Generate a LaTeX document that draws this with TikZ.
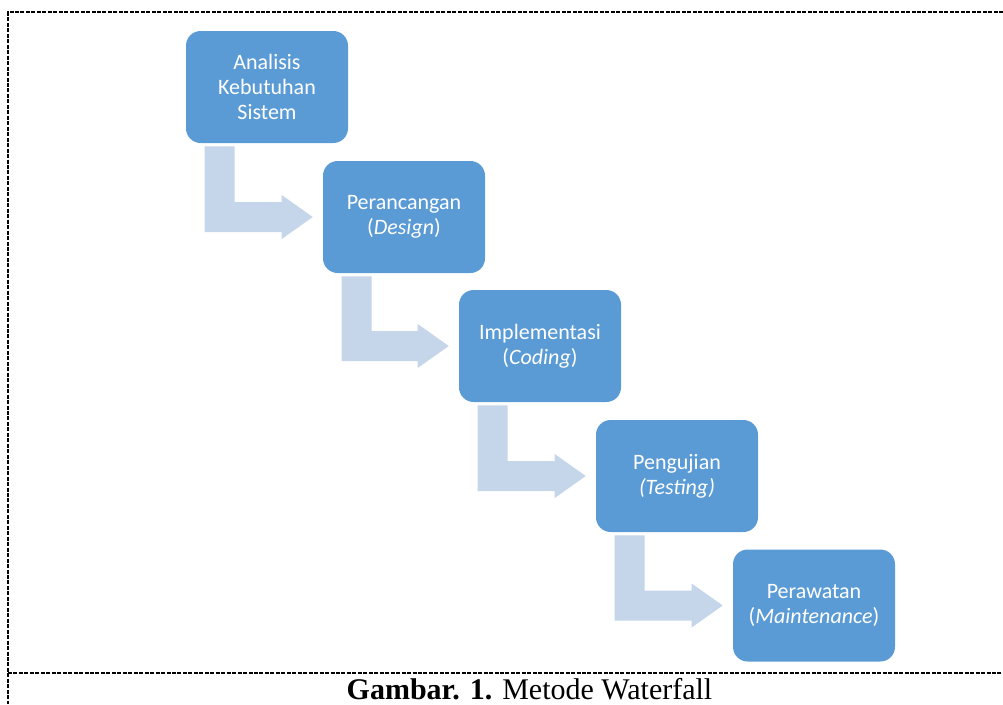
\documentclass[tikz,border=0pt]{standalone}
\usepackage{fontspec}
\setmainfont{Liberation Serif}
\newfontfamily\boxfont{Carlito}
\usetikzlibrary{calc}
\definecolor{stepblue}{HTML}{5B9BD5}
\definecolor{flowblue}{HTML}{C5D6EA}
\tikzset{
  stepbox/.style={draw=none, fill=stepblue, rounded corners=11pt,
    minimum width=121.5pt, minimum height=84pt, inner sep=0pt,
    text=white, align=center, font=\boxfont\fontsize{16.5}{18.75}\selectfont},
  flow/.style={fill=flowblue, draw=none},
  frame/.style={line width=1.1pt, dash pattern=on 3pt off 1.1pt, black}
}
\newcommand\steparrow[2]{%
  \path ($(#1.south west)+(19,3)$) coordinate (A1)
        ($(#1.south west)+(49,3)$) coordinate (A2)
        ($(#2.west)+(-41,-15)$) coordinate (A3)
        ($(#2.west)+(-41,15)$) coordinate (A4)
        ($(#2.west)+(-10,0)$) coordinate (A5);
  \fill[flow] (A1) -- (A2) -- (A2 |- A3) -- (A3) -- ++(0,-7) -- (A5)
     -- ($(A4)+(0,7)$) -- (A4) -- (A1 |- A4) -- cycle;
}
\begin{document}
\begin{tikzpicture}[x=0.75pt,y=-0.75pt]
\useasboundingbox (0,0) rectangle (1003,704);
% frame
\coordinate (fTL) at (8,12);
\coordinate (fTR) at (1003,12);
\coordinate (fML) at (8,673);
\coordinate (fMR) at (1003,673);
\coordinate (fBL) at (8,704);
\draw[frame] (fTR) -- (fTL) -- (fBL);
\draw[frame] (fML) -- (fMR);
% boxes
\node[stepbox] (s1) at (267,87) {Analisis\\Kebutuhan\\Sistem};
\node[stepbox] (s2) at (404,217) {Perancangan\\(\textit{Design})};
\node[stepbox] (s3) at (540,346) {Implementasi\\(\textit{Coding})};
\node[stepbox] (s4) at (677,476) {Pengujian\\\textit{(Testing)}};
\node[stepbox] (s5) at (814,605.5) {Perawatan\\(\textit{Maintenance})};
% arrows
\steparrow{s1}{s2}
\steparrow{s2}{s3}
\steparrow{s3}{s4}
\steparrow{s4}{s5}
% caption
\node[anchor=base, inner sep=0pt, font=\fontsize{22.5}{26}\selectfont] (cap) at (529.5,699.5)
  {\textbf{Gambar. 1.} Metode Waterfall};
\end{tikzpicture}
\end{document}
